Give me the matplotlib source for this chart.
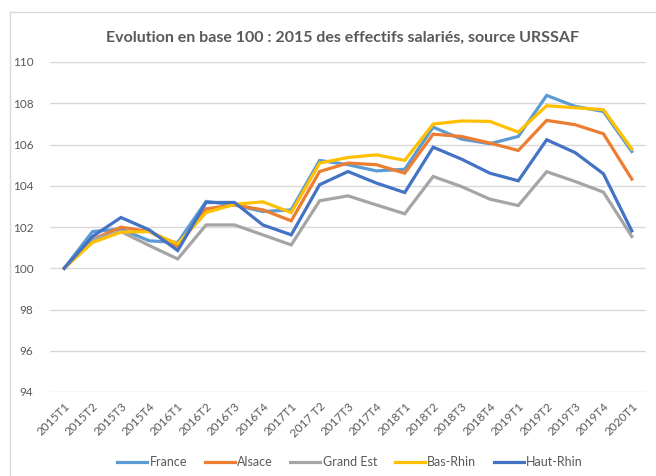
import matplotlib.pyplot as plt
from matplotlib.lines import Line2D

# quarters
periodes = ["2015T1", "2015T2", "2015T3", "2015T4", "2016T1", "2016T2", "2016T3",
            "2016T4", "2017T1", "2017 T2", "2017T3", "2017T4", "2018T1", "2018T2",
            "2018T3", "2018T4", "2019T1", "2019T2", "2019T3", "2019T4", "2020T1"]

france = [100, 101.78, 101.90, 101.33, 101.25, 103.24, 103.07, 102.75, 102.83, 105.23, 105.02,
          104.72, 104.80, 106.84, 106.26, 106.04, 106.39, 108.38, 107.85, 107.60, 105.66]
alsace = [100, 101.40, 101.99, 101.78, 101.05, 102.88, 103.07, 102.83, 102.30, 104.69, 105.10,
          105.02, 104.61, 106.50, 106.39, 106.07, 105.71, 107.17, 106.96, 106.52, 104.32]
grand_est = [100, 101.40, 101.78, 101.10, 100.45, 102.10, 102.10, 101.62, 101.13, 103.27, 103.51,
             103.07, 102.64, 104.45, 103.96, 103.35, 103.04, 104.68, 104.21, 103.69, 101.54]
bas_rhin = [100, 101.25, 101.75, 101.78, 101.18, 102.70, 103.10, 103.22, 102.70, 105.10, 105.37,
            105.50, 105.23, 106.99, 107.14, 107.12, 106.60, 107.88, 107.78, 107.69, 105.78]
haut_rhin = [100, 101.54, 102.46, 101.86, 100.86, 103.19, 103.19, 102.10, 101.62, 104.05, 104.69,
             104.13, 103.67, 105.87, 105.29, 104.61, 104.24, 106.23, 105.61, 104.58, 101.81]

series = [
    ("France", france, "#5B9BD5"),
    ("Alsace", alsace, "#ED7D31"),
    ("Grand Est", grand_est, "#A5A5A5"),
    ("Bas-Rhin", bas_rhin, "#FFC000"),
    ("Haut-Rhin", haut_rhin, "#4472C4"),
]

plt.rcParams["font.family"] = ["Lato", "DejaVu Sans"]

W, H = 656, 476
fig = plt.figure(figsize=(W / 100, H / 100), dpi=100)
ax = fig.add_axes([50 / W, 1 - 392 / H, 596 / W, 330 / H])

x = list(range(len(periodes)))
for nom, vals, col in series:
    ax.plot(x, vals, color=col, lw=2.3, label=nom, solid_joinstyle="miter")

ax.set_xlim(-0.5, len(periodes) - 0.5)
ax.set_ylim(94, 110)
ax.set_yticks(range(94, 111, 2))
ax.set_xticks(x)
ax.set_xticklabels(periodes, rotation=45, ha="right", va="top", rotation_mode="anchor")
ax.tick_params(axis="both", length=0, colors="#595959", labelsize=8.5)
ax.tick_params(axis="x", pad=6)
ax.tick_params(axis="y", pad=12)
ax.grid(axis="y", color="#D9D9D9", lw=1)
ax.set_axisbelow(True)
for s in ax.spines.values():
    s.set_visible(False)

fig.text(343 / W, 1 - 38 / H, "Evolution en base 100 : 2015 des effectifs salariés, source URSSAF",
         ha="center", va="center", fontsize=11.5, fontweight="bold", color="#595959")

fig.legend(loc="center", bbox_to_anchor=(350 / W, 1 - 462 / H), ncol=5, frameon=False,
           fontsize=9, handlelength=2.4, handletextpad=0.2, columnspacing=1.4,
           labelcolor="#595959")

# chart frame (only top and left edges are visible in the crop)
fig.add_artist(Line2D([9.5 / W, 9.5 / W], [0, 1 - 12 / H], transform=fig.transFigure,
                      color="#D9D9D9", lw=1))
fig.add_artist(Line2D([9.5 / W, 1], [1 - 12 / H, 1 - 12 / H], transform=fig.transFigure,
                      color="#D9D9D9", lw=1))

fig.savefig("out.png", dpi=100)
